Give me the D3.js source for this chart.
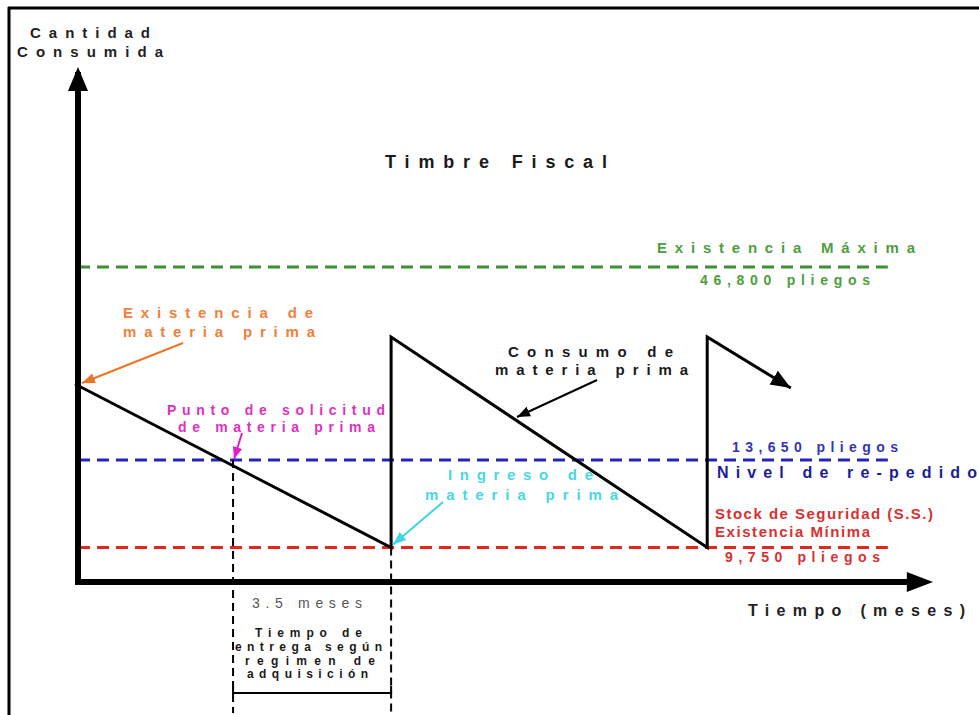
<!DOCTYPE html>
<html lang="es">
    <head>
        <meta charset="utf-8">
        <title>Timbre Fiscal</title>
        <script src="https://d3js.org/d3.v7.min.js"></script>
        <style type="text/css">
            body { margin: 0; background: #fff; }
            svg text { font-family: "Liberation Sans", Arial, sans-serif; font-weight: bold; }
        </style>
    </head>
    <body>
        <svg width="979" height="715"></svg>
        <script type="text/javascript">

            // inventory levels (schematic height 0-100) and their labels
            const levelNames = ["Existencia Máxima", "Nivel de re-pedido", "Existencia Mínima"];
            const levelPliegos = ["46,800 pliegos", "13,650 pliegos", "9,750 pliegos"];
            const levelPos = [63, 24.4, 6.9];
            const levelColors = ["#3f8f35", "#2525b8", "#e0281c"];

            // saw-tooth consumption curve: months vs stock level
            const sawMonths = [0, 7, 7, 14, 14, 15.85];
            const sawLevels = [39.6, 6.9, 49, 6.9, 49, 38.8];

            // lead time: order placed at 3.5 months, arrives at 7
            const orderMonth = 3.5;
            const arrivalMonth = 7;
            const leadLabel = "3.5 meses";
            const leadText = ["Tiempo de", "entrega según", "regimen de", "adquisición"];

            const svg = d3.select("svg");
            const w = 979;
            const h = 715;

            // months on x, schematic level on y
            const xScale = d3.scaleLinear().domain([0, 19]).range([75, 933]);
            const yScale = d3.scaleLinear().domain([0, 100]).range([582, 82]);

            const axisX = xScale(0) + 3;
            const axisY = yScale(0);
            const lineEnd = xScale(18);

            // picture frame
            svg.append("line").attr("x1", 9).attr("y1", 7).attr("x2", 9).attr("y2", h)
               .attr("stroke", "#000").attr("stroke-width", 3);
            svg.append("line").attr("x1", 8).attr("y1", 8).attr("x2", w).attr("y2", 8)
               .attr("stroke", "#000").attr("stroke-width", 3);

            // arrow markers
            const defs = svg.append("defs");
            function marker(id, color, size) {
                defs.append("marker")
                    .attr("id", id)
                    .attr("viewBox", "0 -5 10 10")
                    .attr("refX", 10).attr("refY", 0)
                    .attr("markerUnits", "userSpaceOnUse")
                    .attr("markerWidth", size).attr("markerHeight", size)
                    .attr("orient", "auto")
                    .append("path")
                    .attr("d", "M0,-4L10,0L0,4Z")
                    .attr("fill", color);
            }
            marker("a-black", "#000", 13);
            marker("a-big", "#000", 20);
            marker("a-orange", "#f07424", 13);
            marker("a-magenta", "#e21fc4", 12);
            marker("a-cyan", "#3cd6e6", 13);

            // level lines
            svg.selectAll("line.level")
               .data(levelPos)
               .enter()
               .append("line")
               .attr("class", "level")
               .attr("x1", axisX).attr("x2", lineEnd)
               .attr("y1", d => yScale(d)).attr("y2", d => yScale(d))
               .attr("stroke", (d, i) => levelColors[i])
               .attr("stroke-width", 3)
               .attr("stroke-dasharray", "12,7");

            // lead time verticals
            [orderMonth, arrivalMonth].forEach((m, i) => {
                svg.append("line")
                   .attr("x1", xScale(m)).attr("x2", xScale(m))
                   .attr("y1", yScale(i == 0 ? levelPos[1] : levelPos[2]))
                   .attr("y2", 713)
                   .attr("stroke", "#000").attr("stroke-width", 2)
                   .attr("stroke-dasharray", "8,5");
            });
            svg.append("path")
               .attr("d", `M${xScale(orderMonth)},684V693H${xScale(arrivalMonth)}V686`)
               .attr("fill", "none").attr("stroke", "#000").attr("stroke-width", 2);

            // saw tooth
            const sawData = sawMonths.map((m, i) => ({month: m, level: sawLevels[i]}));
            const line = d3.line()
                           .x(d => xScale(d.month))
                           .y(d => yScale(d.level));
            svg.append("path")
               .datum(sawData)
               .attr("d", line)
               .attr("fill", "none")
               .attr("stroke", "#000")
               .attr("stroke-width", 3)
               .attr("stroke-linejoin", "miter")
               .attr("marker-end", "url(#a-big)");

            // axes with arrow heads
            svg.append("line").attr("x1", axisX).attr("x2", axisX)
               .attr("y1", axisY + 3).attr("y2", yScale(102))
               .attr("stroke", "#000").attr("stroke-width", 6);
            svg.append("path")
               .attr("d", `M${axisX},${yScale(103)}L${axisX - 10},${yScale(98.2)}L${axisX + 10},${yScale(98.2)}Z`)
               .attr("fill", "#000");
            svg.append("line").attr("x1", xScale(0)).attr("x2", xScale(18.5))
               .attr("y1", axisY).attr("y2", axisY)
               .attr("stroke", "#000").attr("stroke-width", 6);
            svg.append("path")
               .attr("d", `M${xScale(19)},${axisY}L${xScale(18.42)},${axisY - 10}L${xScale(18.42)},${axisY + 10}Z`)
               .attr("fill", "#000");

            // annotation arrows (heads on the curve)
            function pointer(x1, y1, x2, y2, color, id) {
                svg.append("line")
                   .attr("x1", x1).attr("y1", y1).attr("x2", x2).attr("y2", y2)
                   .attr("stroke", color).attr("stroke-width", 2)
                   .attr("marker-end", `url(#${id})`);
            }
            pointer(183, 343, xScale(0) + 7, yScale(sawLevels[0]) - 1, "#f07424", "a-orange");
            pointer(242, 433, xScale(orderMonth) + 1, yScale(levelPos[1]) - 1, "#e21fc4", "a-magenta");
            pointer(597, 380, 517, 417, "#000", "a-black");
            pointer(443, 502, xScale(arrivalMonth) + 2, yScale(levelPos[2]) - 3, "#3cd6e6", "a-cyan");

            // labels: text, left x, width, centre y, size, colour
            const labels = [
                ["Cantidad", 30, 120, 33, 15, "#222"],
                ["Consumida", 17, 146, 52, 15, "#222"],
                ["Timbre Fiscal", 385, 222, 162, 18, "#1a1a1a"],
                [levelNames[0], 657, 258, 248, 15, "#4e9e40"],
                [levelPliegos[0], 700, 170, 280, 14, "#4e9e40"],
                ["Existencia de", 123, 190, 313, 15, "#f0803a"],
                ["materia prima", 123, 192, 332, 15, "#f0803a"],
                ["Consumo de", 508, 165, 352, 15, "#1a1a1a"],
                ["materia prima", 495, 193, 370, 15, "#1a1a1a"],
                ["Punto de solicitud", 167, 218, 410, 14, "#e030c0"],
                ["de materia prima", 178, 197, 427, 14, "#e030c0"],
                [levelPliegos[1], 732, 166, 447, 14, "#3535b4"],
                [levelNames[1], 717, 260, 472, 16, "#1c1c98"],
                ["Ingreso de", 448, 145, 475, 15, "#48d8e4"],
                ["materia prima", 425, 193, 495, 15, "#48d8e4"],
                ["Stock de Seguridad (S.S.)", 715, 218, 514, 15, "#d93030"],
                [levelNames[2], 715, 155, 532, 15, "#d93030"],
                [levelPliegos[2], 725, 155, 557, 14, "#d93030"],
                [leadLabel, 252, 110, 603, 14, "#555"],
                [leadText[0], 255, 107, 633, 12, "#1a1a1a"],
                [leadText[1], 235, 147, 647, 12, "#1a1a1a"],
                [leadText[2], 245, 130, 661, 12, "#1a1a1a"],
                [leadText[3], 247, 121, 674, 12, "#1a1a1a"],
                ["Tiempo (meses)", 748, 217, 610, 16, "#222"]
            ];

            svg.selectAll("text.lbl")
               .data(labels)
               .enter()
               .append("text")
               .attr("class", "lbl")
               .attr("x", d => d[1])
               .attr("y", d => d[3])
               .attr("dy", "0.36em")
               .attr("textLength", d => d[2])
               .attr("lengthAdjust", "spacing")
               .style("font-size", d => d[4] + "px")
               .style("font-weight", d => d[0] == leadLabel ? "normal" : "bold")
               .attr("fill", d => d[5])
               .text(d => d[0]);

        </script>
    </body>
</html>
